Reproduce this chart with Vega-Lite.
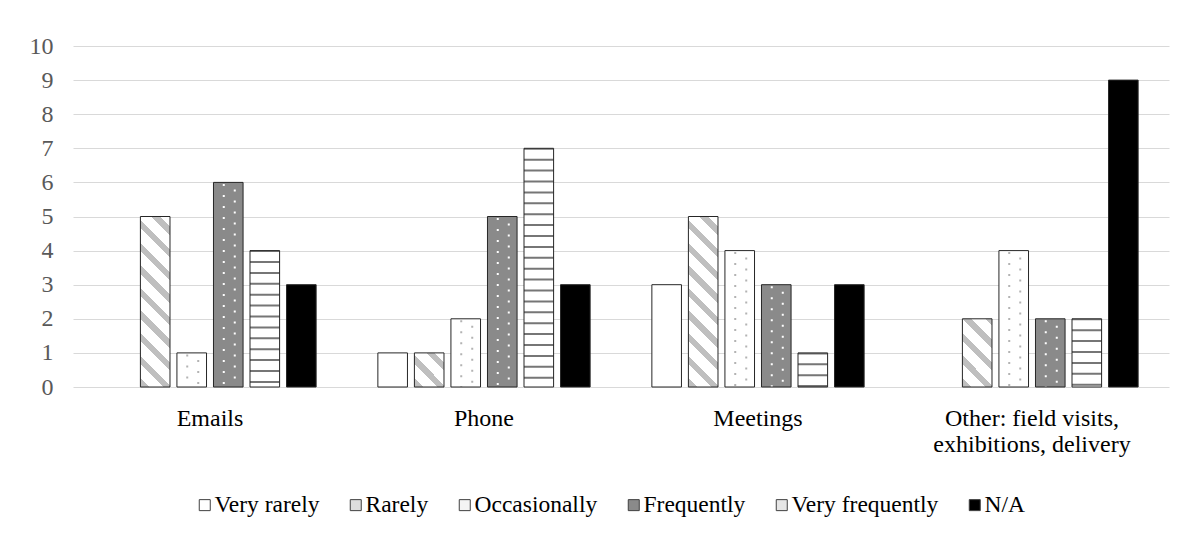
{
  "$schema": "https://vega.github.io/schema/vega-lite/v6.json",
  "width": 1096,
  "height": 341,
  "autosize": {"type": "none"},
  "padding": {"left": 73, "top": 46, "right": 23, "bottom": 153},
  "background": "#ffffff",
  "config": {"view": {"stroke": null}, "font": "Liberation Serif"},
  "data": {
    "values": [
      {"channel": "Emails", "freq": "Very rarely", "count": 0},
      {"channel": "Emails", "freq": "Rarely", "count": 5},
      {"channel": "Emails", "freq": "Occasionally", "count": 1},
      {"channel": "Emails", "freq": "Frequently", "count": 6},
      {"channel": "Emails", "freq": "Very frequently", "count": 4},
      {"channel": "Emails", "freq": "N/A", "count": 3},
      {"channel": "Phone", "freq": "Very rarely", "count": 1},
      {"channel": "Phone", "freq": "Rarely", "count": 1},
      {"channel": "Phone", "freq": "Occasionally", "count": 2},
      {"channel": "Phone", "freq": "Frequently", "count": 5},
      {"channel": "Phone", "freq": "Very frequently", "count": 7},
      {"channel": "Phone", "freq": "N/A", "count": 3},
      {"channel": "Meetings", "freq": "Very rarely", "count": 3},
      {"channel": "Meetings", "freq": "Rarely", "count": 5},
      {"channel": "Meetings", "freq": "Occasionally", "count": 4},
      {"channel": "Meetings", "freq": "Frequently", "count": 3},
      {"channel": "Meetings", "freq": "Very frequently", "count": 1},
      {"channel": "Meetings", "freq": "N/A", "count": 3},
      {"channel": "Other: field visits, exhibitions, delivery", "freq": "Very rarely", "count": 0},
      {"channel": "Other: field visits, exhibitions, delivery", "freq": "Rarely", "count": 2},
      {"channel": "Other: field visits, exhibitions, delivery", "freq": "Occasionally", "count": 4},
      {"channel": "Other: field visits, exhibitions, delivery", "freq": "Frequently", "count": 2},
      {"channel": "Other: field visits, exhibitions, delivery", "freq": "Very frequently", "count": 2},
      {"channel": "Other: field visits, exhibitions, delivery", "freq": "N/A", "count": 9}
    ]
  },
  "transform": [{"filter": "datum.count > 0"}],
  "resolve": {"scale": {"xOffset": "independent"}},
  "encoding": {
    "x": {
      "field": "channel",
      "type": "nominal",
      "sort": ["Emails", "Phone", "Meetings", "Other: field visits, exhibitions, delivery"],
      "scale": {"paddingInner": 0.2, "paddingOuter": 0.1},
      "axis": {
        "title": null,
        "domain": false,
        "ticks": false,
        "tickSize": 0,
        "labelAngle": 0,
        "labelPadding": 19,
        "labelLimit": 400,
        "labelFont": "Liberation Serif",
        "labelFontSize": 24,
        "labelColor": "#000000",
        "labelLineHeight": 26,
        "labelExpr": "datum.label == 'Other: field visits, exhibitions, delivery' ? ['Other: field visits,', 'exhibitions, delivery'] : datum.label"
      }
    },
    "xOffset": {
      "field": "freq",
      "type": "nominal",
      "sort": ["Very rarely", "Rarely", "Occasionally", "Frequently", "Very frequently", "N/A"],
      "scale": {
        "domain": ["Very rarely", "Rarely", "Occasionally", "Frequently", "Very frequently", "N/A"],
        "paddingInner": 0.19,
        "paddingOuter": 0.095
      }
    },
    "y": {
      "field": "count",
      "type": "quantitative",
      "scale": {"domain": [0, 10], "nice": false},
      "axis": {
        "title": null,
        "domain": false,
        "ticks": false,
        "tickSize": 0,
        "values": [0, 1, 2, 3, 4, 5, 6, 7, 8, 9, 10],
        "grid": true,
        "gridColor": "#d9d9d9",
        "gridWidth": 1.2,
        "labelPadding": 20,
        "labelFont": "Liberation Serif",
        "labelFontSize": 24,
        "labelColor": "#595959"
      }
    }
  },
  "layer": [
    {
      "mark": {"type": "bar", "strokeWidth": 0},
      "encoding": {
        "fill": {
          "condition": [
            {
              "test": "datum.freq === 'Rarely' && datum.count === 5",
              "value": {
                "gradient": "linear", "x1": 0, "y1": 1, "x2": 0.19779, "y2": -0.13928,
                "stops": [
                  {"offset": 0, "color": "#bfbfbf"}, {"offset": 0.045, "color": "#bfbfbf"}, {"offset": 0.045, "color": "#ffffff"},
                  {"offset": 0.1154, "color": "#ffffff"}, {"offset": 0.1154, "color": "#bfbfbf"}, {"offset": 0.1579, "color": "#bfbfbf"}, {"offset": 0.1579, "color": "#ffffff"},
                  {"offset": 0.2284, "color": "#ffffff"}, {"offset": 0.2284, "color": "#bfbfbf"}, {"offset": 0.2709, "color": "#bfbfbf"}, {"offset": 0.2709, "color": "#ffffff"},
                  {"offset": 0.3413, "color": "#ffffff"}, {"offset": 0.3413, "color": "#bfbfbf"}, {"offset": 0.3838, "color": "#bfbfbf"}, {"offset": 0.3838, "color": "#ffffff"},
                  {"offset": 0.4543, "color": "#ffffff"}, {"offset": 0.4543, "color": "#bfbfbf"}, {"offset": 0.4968, "color": "#bfbfbf"}, {"offset": 0.4968, "color": "#ffffff"},
                  {"offset": 0.5672, "color": "#ffffff"}, {"offset": 0.5672, "color": "#bfbfbf"}, {"offset": 0.6097, "color": "#bfbfbf"}, {"offset": 0.6097, "color": "#ffffff"},
                  {"offset": 0.6802, "color": "#ffffff"}, {"offset": 0.6802, "color": "#bfbfbf"}, {"offset": 0.7226, "color": "#bfbfbf"}, {"offset": 0.7226, "color": "#ffffff"},
                  {"offset": 0.7931, "color": "#ffffff"}, {"offset": 0.7931, "color": "#bfbfbf"}, {"offset": 0.8356, "color": "#bfbfbf"}, {"offset": 0.8356, "color": "#ffffff"},
                  {"offset": 0.906, "color": "#ffffff"}, {"offset": 0.906, "color": "#bfbfbf"}, {"offset": 0.9485, "color": "#bfbfbf"}, {"offset": 0.9485, "color": "#ffffff"},
                  {"offset": 1, "color": "#ffffff"}
                ]
              }
            },
            {
              "test": "datum.freq === 'Rarely' && datum.count === 2",
              "value": {
                "gradient": "linear", "x1": 0, "y1": 1, "x2": 0.52374, "y2": -0.20673,
                "stops": [
                  {"offset": 0, "color": "#bfbfbf"}, {"offset": 0.092, "color": "#bfbfbf"}, {"offset": 0.092, "color": "#ffffff"},
                  {"offset": 0.2362, "color": "#ffffff"}, {"offset": 0.2362, "color": "#bfbfbf"}, {"offset": 0.3231, "color": "#bfbfbf"}, {"offset": 0.3231, "color": "#ffffff"},
                  {"offset": 0.4673, "color": "#ffffff"}, {"offset": 0.4673, "color": "#bfbfbf"}, {"offset": 0.5542, "color": "#bfbfbf"}, {"offset": 0.5542, "color": "#ffffff"},
                  {"offset": 0.6984, "color": "#ffffff"}, {"offset": 0.6984, "color": "#bfbfbf"}, {"offset": 0.7853, "color": "#bfbfbf"}, {"offset": 0.7853, "color": "#ffffff"},
                  {"offset": 0.9294, "color": "#ffffff"}, {"offset": 0.9294, "color": "#bfbfbf"}, {"offset": 1, "color": "#bfbfbf"}
                ]
              }
            },
            {
              "test": "datum.freq === 'Rarely' && datum.count === 1",
              "value": {
                "gradient": "linear", "x1": 0, "y1": 1, "x2": 0.92473, "y2": -0.06532,
                "stops": [
                  {"offset": 0, "color": "#bfbfbf"}, {"offset": 0.1413, "color": "#bfbfbf"}, {"offset": 0.1413, "color": "#ffffff"},
                  {"offset": 0.3626, "color": "#ffffff"}, {"offset": 0.3626, "color": "#bfbfbf"}, {"offset": 0.4961, "color": "#bfbfbf"}, {"offset": 0.4961, "color": "#ffffff"},
                  {"offset": 0.7174, "color": "#ffffff"}, {"offset": 0.7174, "color": "#bfbfbf"}, {"offset": 0.8509, "color": "#bfbfbf"}, {"offset": 0.8509, "color": "#ffffff"},
                  {"offset": 1, "color": "#ffffff"}
                ]
              }
            },
            {"test": "datum.freq === 'Frequently'", "value": "#8a8a8a"},
            {"test": "datum.freq === 'N/A'", "value": "#000000"}
          ],
          "value": "#ffffff"
        }
      }
    },
    {
      "transform": [{"filter": "datum.freq === 'Very frequently'"}],
      "mark": {"type": "rule", "strokeWidth": 29.6, "strokeCap": "butt", "strokeDash": [2, 8.9], "strokeDashOffset": 0.5, "color": "#767676"},
      "encoding": {"y2": {"datum": 0}}
    },
    {
      "transform": [{"filter": "datum.freq === 'Occasionally' || datum.freq === 'Frequently'"}],
      "mark": {"type": "rule", "strokeWidth": 2, "strokeCap": "butt", "strokeDash": [2, 9], "strokeDashOffset": -1.5},
      "encoding": {
        "xOffset": {
          "field": "freq",
          "type": "nominal",
          "scale": {
            "domain": ["Very rarely", "Rarely", "Occasionally", "Frequently", "Very frequently", "N/A"],
            "paddingInner": 0.19,
            "paddingOuter": 0.095,
            "range": [-4.5, 214.7]
          }
        },
        "y2": {"datum": 0},
        "stroke": {"condition": {"test": "datum.freq === 'Frequently'", "value": "#ffffff"}, "value": "#b3b3b3"}
      }
    },
    {
      "transform": [{"filter": "datum.freq === 'Occasionally' || datum.freq === 'Frequently'"}],
      "mark": {"type": "rule", "strokeWidth": 2, "strokeCap": "butt", "strokeDash": [2, 9], "strokeDashOffset": -7},
      "encoding": {
        "xOffset": {
          "field": "freq",
          "type": "nominal",
          "scale": {
            "domain": ["Very rarely", "Rarely", "Occasionally", "Frequently", "Very frequently", "N/A"],
            "paddingInner": 0.19,
            "paddingOuter": 0.095,
            "range": [6.5, 225.7]
          }
        },
        "y2": {"datum": 0},
        "stroke": {"condition": {"test": "datum.freq === 'Frequently'", "value": "#ffffff"}, "value": "#b3b3b3"}
      }
    },
    {
      "mark": {"type": "bar", "fillOpacity": 0, "stroke": "#262626", "strokeWidth": 1},
      "encoding": {
        "fill": {
          "field": "freq",
          "type": "nominal",
          "scale": {
            "domain": ["Very rarely", "Rarely", "Occasionally", "Frequently", "Very frequently", "N/A"],
            "range": ["#ffffff", "#dddddd", "#f4f4f4", "#8a8a8a", "#e6e6e6", "#000000"]
          },
          "legend": {
            "orient": "none",
            "legendX": 120,
            "legendY": 447,
            "direction": "horizontal",
            "title": null,
            "padding": 0,
            "symbolType": "square",
            "symbolSize": 121,
            "symbolStrokeColor": "#404040",
            "symbolStrokeWidth": 1,
            "labelFont": "Liberation Serif",
            "labelFontSize": 23.5,
            "labelColor": "#000000",
            "labelOffset": -2,
            "columnPadding": 24,
            "encode": {
              "symbols": {
                "update": {
                  "fillOpacity": {"value": 1},
                  "stroke": {"value": "#404040"},
                  "fill": [
                    {
                      "test": "datum.value === 'Rarely'",
                      "value": {"gradient": "linear", "x1": 0, "y1": 1, "x2": 1, "y2": 0,
                        "stops": [{"offset": 0, "color": "#ffffff"}, {"offset": 0.45, "color": "#ffffff"}, {"offset": 0.45, "color": "#bfbfbf"}, {"offset": 1, "color": "#bfbfbf"}]}
                    },
                    {
                      "test": "datum.value === 'Occasionally'",
                      "value": {"gradient": "radial", "x1": 0.5, "y1": 0.5, "r1": 0, "x2": 0.5, "y2": 0.5, "r2": 0.5,
                        "stops": [{"offset": 0, "color": "#a0a0a0"}, {"offset": 0.3, "color": "#a0a0a0"}, {"offset": 0.3, "color": "#ffffff"}, {"offset": 1, "color": "#ffffff"}]}
                    },
                    {
                      "test": "datum.value === 'Frequently'",
                      "value": {"gradient": "radial", "x1": 0.5, "y1": 0.5, "r1": 0, "x2": 0.5, "y2": 0.5, "r2": 0.5,
                        "stops": [{"offset": 0, "color": "#ffffff"}, {"offset": 0.3, "color": "#ffffff"}, {"offset": 0.3, "color": "#8a8a8a"}, {"offset": 1, "color": "#8a8a8a"}]}
                    },
                    {
                      "test": "datum.value === 'Very frequently'",
                      "value": {"gradient": "linear", "x1": 0, "y1": 0, "x2": 0, "y2": 1,
                        "stops": [{"offset": 0, "color": "#ffffff"}, {"offset": 0.15, "color": "#ffffff"}, {"offset": 0.15, "color": "#767676"}, {"offset": 0.38, "color": "#767676"}, {"offset": 0.38, "color": "#ffffff"}, {"offset": 1, "color": "#ffffff"}]}
                    },
                    {"test": "datum.value === 'N/A'", "value": "#000000"},
                    {"value": "#ffffff"}
                  ]
                }
              }
            }
          }
        }
      }
    }
  ]
}
